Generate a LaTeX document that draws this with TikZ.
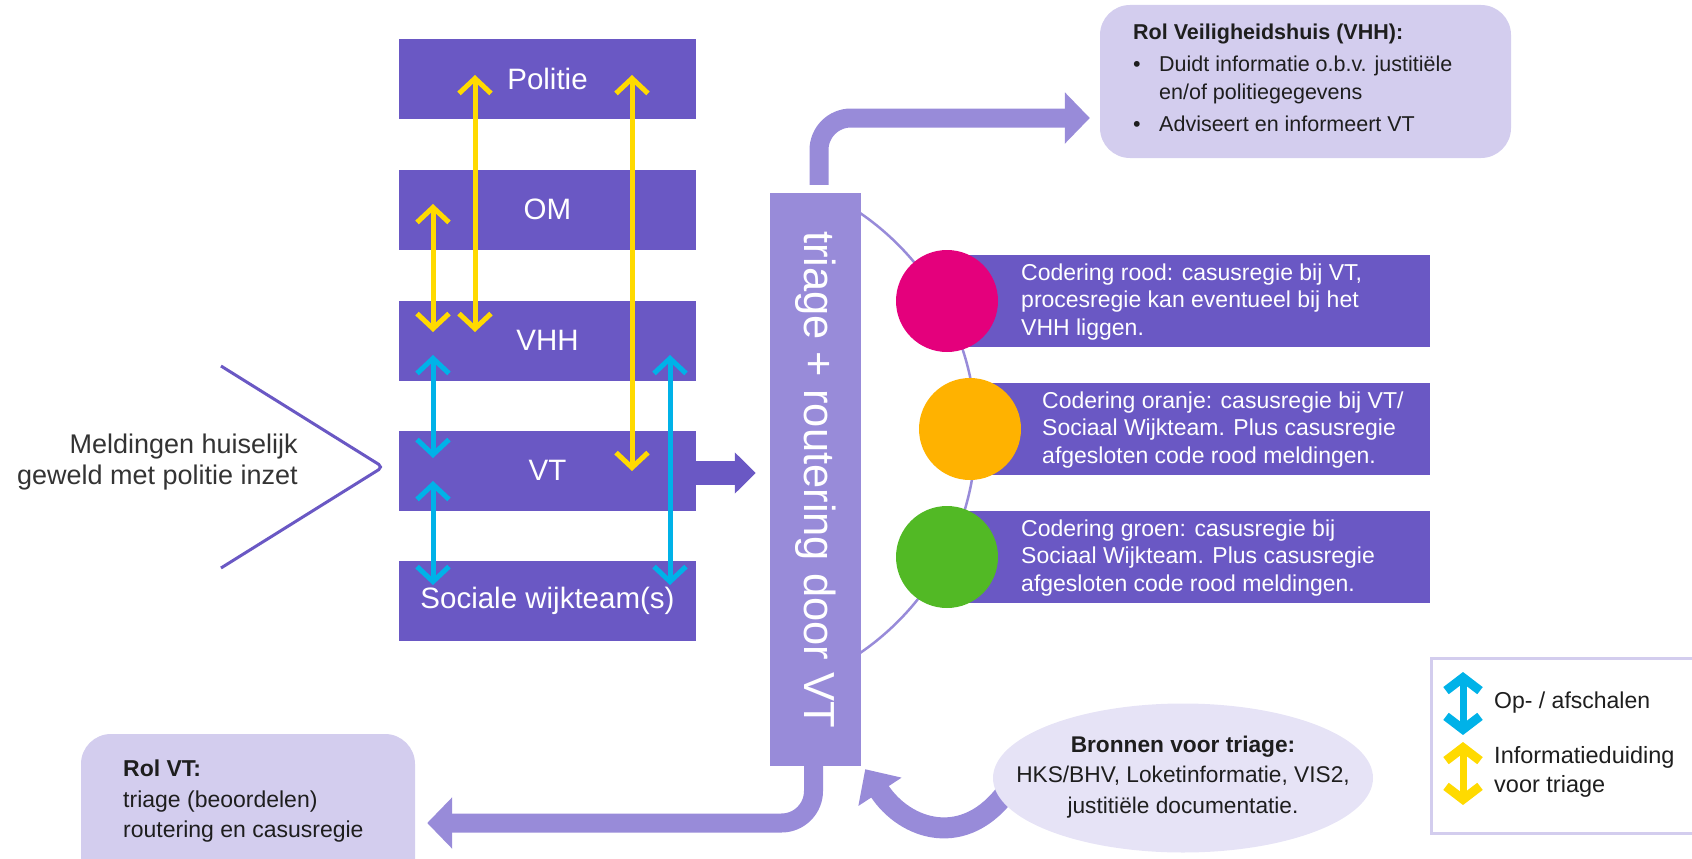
\documentclass[tikz,border=0pt]{standalone}
\usepackage{fontspec}
\setmainfont{Liberation Sans}
\usepackage{graphicx}
\usetikzlibrary{arrows.meta,shapes.geometric,calc}
\definecolor{dpurple}{RGB}{106,88,196}
\definecolor{lpurple}{RGB}{152,139,217}
\definecolor{rolefill}{RGB}{211,205,238}
\definecolor{ellfill}{RGB}{230,227,246}
\definecolor{yel}{RGB}{255,218,0}
\definecolor{blu}{RGB}{0,178,232}
\definecolor{cred}{RGB}{228,0,124}
\definecolor{cora}{RGB}{255,178,0}
\definecolor{cgre}{RGB}{82,185,37}
\definecolor{tdark}{RGB}{30,30,30}
\definecolor{tgray}{RGB}{51,51,51}
\newcommand{\fsz}[2]{\fontsize{#1}{#2}\selectfont}
\begin{document}
\begin{tikzpicture}[x=1pt,y=-1pt,
  orgbox/.style={fill=dpurple, minimum width=297pt, minimum height=80pt, inner sep=0pt, text=white, font=\fsz{29.5}{34}},
  yarr/.style={draw=yel, line width=5pt, {Straight Barb[length=15pt,width=32pt]}-{Straight Barb[length=15pt,width=32pt]}},
  barr/.style={draw=blu, line width=5pt, {Straight Barb[length=15pt,width=32pt]}-{Straight Barb[length=15pt,width=32pt]}},
  flow/.style={draw=lpurple, line width=19pt, rounded corners=32pt, -{Triangle[length=25pt,width=50pt]}},
  colrect/.style={fill=dpurple, minimum height=92pt, inner sep=0pt, anchor=west},
  dot/.style={circle, minimum size=102pt, inner sep=0pt},
  wtext/.style={anchor=west, align=left, text=white, inner sep=0pt, font=\fsz{23}{27.5}},
  btext/.style={align=left, text=tdark, inner sep=0pt, font=\fsz{23}{30.5}},
  rolebox/.style={fill=rolefill, rounded corners=30pt, inner sep=0pt},
  legarr/.style={line width=7pt, {Straight Barb[length=13pt,width=34pt,line width=9pt]}-{Straight Barb[length=13pt,width=34pt,line width=9pt]}}
]
\useasboundingbox (0,0) rectangle (1692,859);
\clip (0,0) rectangle (1692,859);

% organisation boxes
\node[orgbox] (pol) at (547.5,79) {Politie};
\node[orgbox] (om) at (547.5,209.5) {OM};
\node[orgbox] (vhh) at (547.5,340.5) {VHH};
\node[orgbox] (vt) at (547.5,470.5) {VT};
\node[orgbox] (swt) at (547.5,600.5) {Sociale wijkteam(s)};

% arrow end points
\coordinate (y1a) at (475,75);  \coordinate (y1b) at (475,332);
\coordinate (y2a) at (433,204); \coordinate (y2b) at (433,332);
\coordinate (y3a) at (632,75);  \coordinate (y3b) at (632,471);
\coordinate (b1a) at (433,355); \coordinate (b1b) at (433,458);
\coordinate (b2a) at (433,481); \coordinate (b2b) at (433,585);
\coordinate (b3a) at (670,355); \coordinate (b3b) at (670,585);
\draw[yarr] (y1a) -- (y1b);
\draw[yarr] (y2a) -- (y2b);
\draw[yarr] (y3a) -- (y3b);
\draw[barr] (b1a) -- (b1b);
\draw[barr] (b2a) -- (b2b);
\draw[barr] (b3a) -- (b3b);

% incoming reports
\node[align=right, anchor=east, text=tgray, inner sep=0pt, font=\fsz{27}{31}] (meld) at (298,462) {Meldingen huiselijk\\geweld met politie inzet};
\draw[draw=dpurple, line width=3pt, rounded corners=5pt] (221,366) -- (383,467) -- (221,568);

% arc
\begin{scope}
\clip (861,0) rectangle (1100,859);
\draw[lpurple, line width=2.5pt] (709.4,433) circle[radius=266.6pt];
\end{scope}

% triage bar
\node[fill=lpurple, minimum width=91pt, minimum height=573pt, inner sep=0pt, text=white, font=\fsz{43.5}{50}] (tri) at (815.5,479.5) {\rotatebox{-90}{triage + routering door VT}};

% VT -> triage
\draw[dpurple, line width=24pt, -{Triangle[length=21pt,width=40pt]}] ($(vt.east)+(0,2.5)$) -- ($(vt.east -| tri.west)+(-14,2.5)$);

% colour coded rows
\node[colrect, minimum width=483pt] (rred) at (947,301) {};
\node[colrect, minimum width=460pt] (rora) at (970,429) {};
\node[colrect, minimum width=483pt] (rgre) at (947,557) {};
\node[dot, fill=cred] (dred) at (947,301) {};
\node[dot, fill=cora] (dora) at (970,429) {};
\node[dot, fill=cgre] (dgre) at (947,557) {};
\node[wtext] (tred) at (1021,302) {Codering rood: casusregie bij VT,\\procesregie kan eventueel bij het\\VHH liggen.};
\node[wtext] (tora) at (1042,430) {Codering oranje: casusregie bij VT/\\Sociaal Wijkteam. Plus casusregie\\afgesloten code rood meldingen.};
\node[wtext] (tgre) at (1021,558) {Codering groen: casusregie bij\\Sociaal Wijkteam. Plus casusregie\\afgesloten code rood meldingen.};

% role VHH
\node[rolebox, minimum width=411pt, minimum height=153pt] (vhhbox) at (1305.5,81.5) {};
\node[btext, anchor=north west, font=\fsz{21.5}{28.5}] (vhhtxt) at (1133,24) {\textbf{Rol Veiligheidshuis (VHH):}\\[3pt]
\makebox[26pt][l]{\textbullet}Duidt informatie o.b.v. justitiële\\
\makebox[26pt][l]{}en/of politiegegevens\\[3pt]
\makebox[26pt][l]{\textbullet}Adviseert en informeert VT};
\draw[flow] ($(tri.north)+(3.5,-8)$) |- ($(vhhbox.west)+(-10,36.5)$);

% role VT
\node[rolebox, minimum width=334pt, minimum height=178pt] (vtrol) at (248,823) {};
\node[btext, anchor=north west] (vtrtxt) at (123,760) {\textbf{Rol VT:}\\triage (beoordelen)\\routering en casusregie};
\draw[flow] ($(tri.south)+(-2,-5)$) |- ($(vtrol.east)+(12,0)$);

% sources
\draw[flow, line width=21pt, -{Triangle[length=27pt,width=50pt]}] (1008,790) .. controls (965,850) and (905,830) .. ($(tri.south east)+(4,3)$);
\node[ellipse, fill=ellfill, minimum width=380pt, minimum height=149pt, inner sep=0pt] (bron) at (1183,778) {};
\node[align=center, text=tdark, inner sep=0pt, font=\fsz{22.7}{30.5}] (brontxt) at (1183,777) {\textbf{Bronnen voor triage:}\\HKS/BHV, Loketinformatie, VIS2,\\justitiële documentatie.};

% legend
\node[draw=rolefill, line width=3pt, minimum width=280pt, minimum height=175pt, inner sep=0pt, anchor=north west] (leg) at (1430,657) {};
\coordinate (lba) at (1463,672); \coordinate (lbb) at (1463,735);
\coordinate (lya) at (1463,742); \coordinate (lyb) at (1463,805);
\draw[legarr, draw=blu] (lba) -- (lbb);
\draw[legarr, draw=yel] (lya) -- (lyb);
\node[anchor=west, text=tdark, inner sep=0pt, font=\fsz{23}{28}] (legb) at (1494,703) {Op- / afschalen};
\node[anchor=west, align=left, text=tdark, inner sep=0pt, font=\fsz{23.5}{29}] (legy) at (1494,772) {Informatieduiding\\voor triage};
\end{tikzpicture}
\end{document}
